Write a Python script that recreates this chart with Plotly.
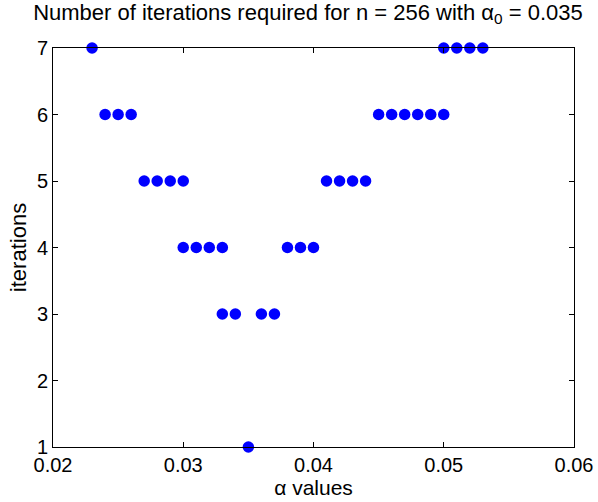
import plotly.graph_objects as go

alpha_values = [0.023,
                0.024, 0.025, 0.026,
                0.027, 0.028, 0.029, 0.030,
                0.030, 0.031, 0.032, 0.033,
                0.033, 0.034,
                0.035,
                0.036, 0.037,
                0.038, 0.039, 0.040,
                0.041, 0.042, 0.043, 0.044,
                0.045, 0.046, 0.047, 0.048, 0.049, 0.050,
                0.050, 0.051, 0.052, 0.053]
iterations = [7,
              6, 6, 6,
              5, 5, 5, 5,
              4, 4, 4, 4,
              3, 3,
              1,
              3, 3,
              4, 4, 4,
              5, 5, 5, 5,
              6, 6, 6, 6, 6, 6,
              7, 7, 7, 7]
x_ticks = [0.02, 0.03, 0.04, 0.05, 0.06]
y_ticks = [1, 2, 3, 4, 5, 6, 7]

FONT = "Liberation Sans, Arial, sans-serif"

fig = go.Figure(go.Scatter(
    x=alpha_values, y=iterations, mode="markers",
    marker=dict(color="#0000ff", size=11.5, line=dict(width=0)),
    cliponaxis=False, showlegend=False, hoverinfo="skip",
))

axis_common = dict(
    showgrid=False, zeroline=False, showline=True, linecolor="black", linewidth=1,
    mirror="ticks", ticks="inside", ticklen=5, tickcolor="black", automargin=False,
    tickfont=dict(family=FONT, size=20, color="black"),
)

fig.update_layout(
    width=598, height=502,
    margin=dict(l=53, r=24, t=48, b=55),
    paper_bgcolor="white", plot_bgcolor="white",
    title=dict(text="Number of iterations required for n = 256 with α<sub>0</sub> = 0.035",
               x=0.515, xanchor="center", y=0.976, yanchor="middle",
               font=dict(family=FONT, size=22, color="black")),
    xaxis=dict(range=[0.02, 0.06], tickvals=x_ticks, ticktext=[f"{v:.2f}" for v in x_ticks],
               title=dict(text="α values", standoff=0, font=dict(family=FONT, size=21, color="black")),
               **axis_common),
    yaxis=dict(range=[1, 7], tickvals=y_ticks,
               title=dict(text="iterations", standoff=4, font=dict(family=FONT, size=22, color="black")),
               **axis_common),
)

fig.write_html("out.html", config={"displayModeBar": False, "staticPlot": True},
               post_script="document.body.style.margin='0';document.body.style.overflow='hidden';")
